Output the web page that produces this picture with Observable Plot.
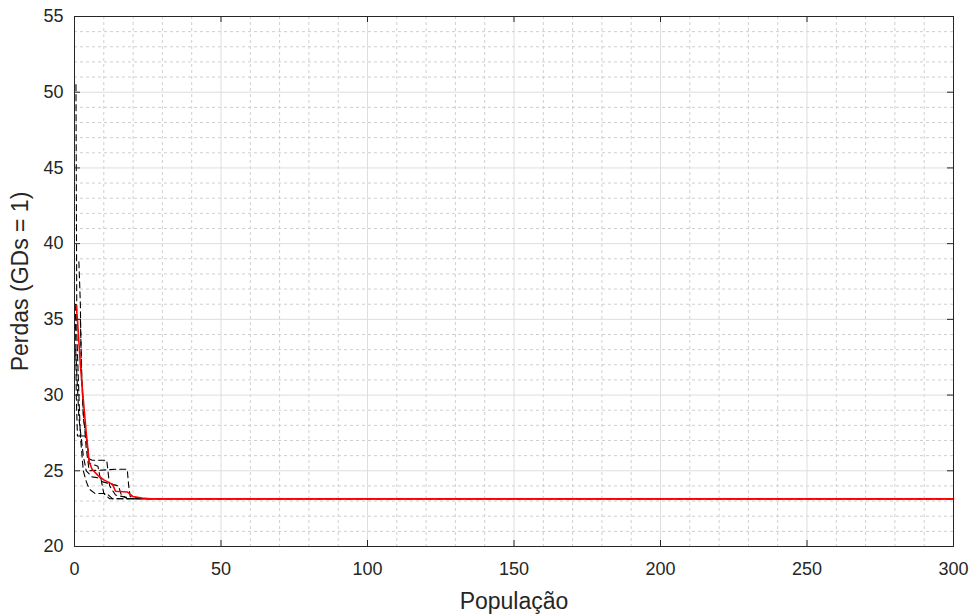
<!DOCTYPE html>
<html>
<head>
<meta charset="utf-8">
<script src="https://cdn.jsdelivr.net/npm/d3@7"></script>
<script src="https://cdn.jsdelivr.net/npm/@observablehq/plot@0.6"></script>
<style>
  html, body { margin: 0; padding: 0; background: #ffffff; }
  #chart { width: 974px; height: 614px; }
</style>
</head>
<body>
<div id="chart"></div>
<script>
// ---- tick values ----
const xTicks = [0, 50, 100, 150, 200, 250, 300];
const yTicks = [20, 25, 30, 35, 40, 45, 50, 55];
const xMinorStep = 10;
const yMinorStep = 1;

// ---- axis texts ----
const xLabel = "População";
const yLabel = "Perdas (GDs = 1)";

// ---- mean curve (red) ----
const meanX = [0.6, 1, 2, 3, 4, 5, 6, 8, 10, 13, 14, 18, 20, 23, 26, 300];
const meanY = [35.9, 35.0, 32.0, 29.7, 27.5, 25.6, 25.1, 24.7, 24.4, 24.1, 23.65, 23.6, 23.3, 23.2, 23.15, 23.15];

// ---- individual runs (black dashed) ----
const run1X = [0.5, 0.8, 1.5, 2, 4, 5, 6, 11, 12, 14, 20, 300];
const run1Y = [50.5, 34.0, 30.0, 27.3, 27.3, 25.8, 25.7, 25.7, 24.0, 23.4, 23.15, 23.15];
const run2X = [1.5, 2, 2.3, 3, 4, 5, 14, 18, 18.5, 19, 24, 300];
const run2Y = [38.8, 36.0, 32.0, 29.0, 26.5, 25.0, 25.1, 25.1, 24.0, 23.3, 23.15, 23.15];
const run3X = [0.3, 0.6, 1, 2, 3, 4, 5, 7, 11, 13, 300];
const run3Y = [36.0, 30.0, 27.3, 27.3, 25.0, 24.3, 23.8, 23.5, 23.5, 23.15, 23.15];
const run4X = [0.4, 1.5, 3, 4, 6, 9, 10, 12, 300];
const run4Y = [33.0, 28.5, 26.0, 25.0, 24.6, 24.5, 23.5, 23.15, 23.15];
const run5X = [2, 2.5, 3, 4.5, 5, 8, 9, 15, 16, 18, 300];
const run5Y = [35.0, 31.0, 28.5, 26.5, 25.5, 25.3, 24.3, 24.0, 23.4, 23.15, 23.15];

const runsX = [run1X, run2X, run3X, run4X, run5X];
const runsY = [run1Y, run2Y, run3Y, run4Y, run5Y];

// tables built from the arrays
const meanData = meanX.map((x, i) => ({x, y: meanY[i]}));
const runData = runsX.flatMap((xs, r) => xs.map((x, i) => ({run: r, x, y: runsY[r][i]})));

const xMin = xTicks[0], xMax = xTicks[xTicks.length - 1];
const yMin = yTicks[0], yMax = yTicks[yTicks.length - 1];
const xMinor = d3.range(xMin, xMax + 1e-9, xMinorStep).filter(v => !xTicks.includes(v));
const yMinor = d3.range(yMin, yMax + 1e-9, yMinorStep).filter(v => !yTicks.includes(v));

const W = 974, H = 614;
const mL = 74, mR = 21, mT = 16, mB = 68;
const tickPx = 6;
const xUnit = (xMax - xMin) / (W - mL - mR);
const yUnit = (yMax - yMin) / (H - mT - mB);
const tx = tickPx * xUnit, ty = tickPx * yUnit;

const ink = "#262626";
const fontSize = 18;
const labelSize = 23;

const chart = Plot.plot({
  width: W,
  height: H,
  marginLeft: mL,
  marginRight: mR,
  marginTop: mT,
  marginBottom: mB,
  style: {
    fontFamily: "'Liberation Sans', Arial, Helvetica, sans-serif",
    fontSize: fontSize + "px",
    color: ink,
    background: "#ffffff",
    overflow: "visible"
  },
  x: {domain: [xMin, xMax]},
  y: {domain: [yMin, yMax]},
  marks: [
    // minor grid
    Plot.ruleX(xMinor, {stroke: "#cfcfcf", strokeWidth: 1, strokeDasharray: "3,3"}),
    Plot.ruleY(yMinor, {stroke: "#cfcfcf", strokeWidth: 1, strokeDasharray: "3,3"}),
    // major grid
    Plot.ruleX(xTicks, {stroke: "#dedede", strokeWidth: 1}),
    Plot.ruleY(yTicks, {stroke: "#dedede", strokeWidth: 1}),
    // runs
    Plot.line(runData, {x: "x", y: "y", z: "run", stroke: "#000000", strokeWidth: 1.1, strokeDasharray: "6,4"}),
    // mean
    Plot.line(meanData, {x: "x", y: "y", stroke: "#ff0000", strokeWidth: 1.6}),
    // box
    Plot.frame({stroke: ink, strokeWidth: 1}),
    // inward ticks: bottom, top, left, right
    Plot.ruleX(xTicks, {x: d => d, y1: yMin, y2: yMin + ty, stroke: ink}),
    Plot.ruleX(xTicks, {x: d => d, y1: yMax, y2: yMax - ty, stroke: ink}),
    Plot.ruleY(yTicks, {y: d => d, x1: xMin, x2: xMin + tx, stroke: ink}),
    Plot.ruleY(yTicks, {y: d => d, x1: xMax, x2: xMax - tx, stroke: ink}),
    // tick labels
    Plot.axisX(xTicks, {tickSize: 0, tickPadding: 16, label: null, fontSize, fill: ink}),
    Plot.axisY(yTicks, {tickSize: 0, tickPadding: 11, label: null, fontSize, fill: ink}),
    // axis titles
    Plot.text([xLabel], {frameAnchor: "bottom", dy: 55, textAnchor: "middle", lineAnchor: "middle", text: d => d, fontSize: labelSize, fill: ink}),
    Plot.text([yLabel], {frameAnchor: "left", dx: -54, rotate: -90, textAnchor: "middle", lineAnchor: "middle", text: d => d, fontSize: labelSize, fill: ink})
  ]
});

document.getElementById("chart").appendChild(chart);
</script>
</body>
</html>
